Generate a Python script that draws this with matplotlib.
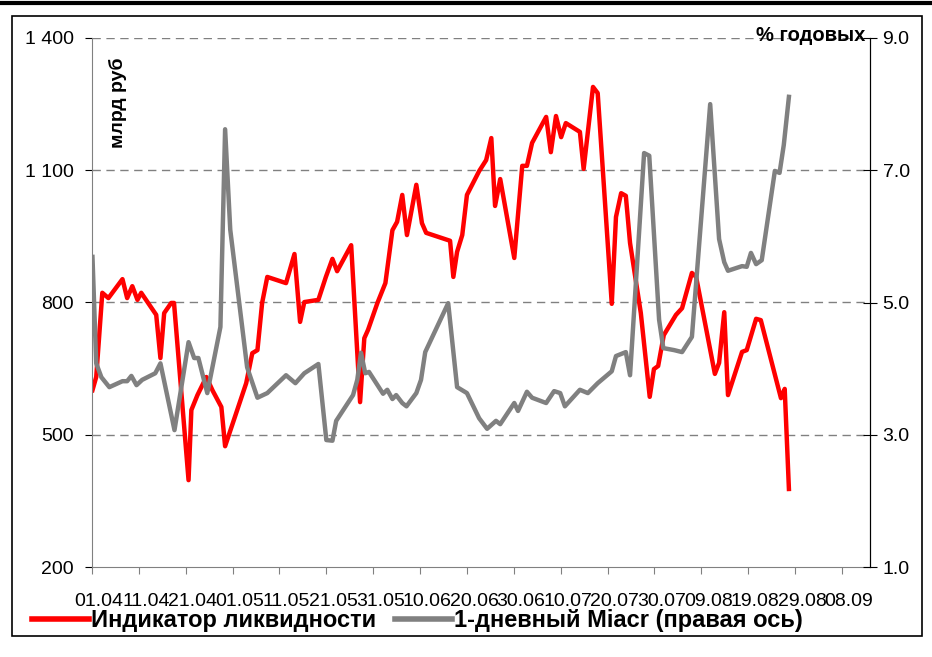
import numpy as np
from matplotlib import pyplot as plt
from matplotlib import transforms
from matplotlib.lines import Line2D
from matplotlib.patches import Rectangle

plt.rcParams['font.family'] = ['Liberation Sans', 'DejaVu Sans']

# days counted from 01.04
liq_days = [0.1, 0.9, 2.2, 3.5, 6.5, 7.5, 8.6, 9.7, 10.5, 13.7, 14.6, 15.4, 16.9, 17.5,
            20.6, 21.2, 22.5, 24.4, 25.7, 27.6, 28.4, 32.9, 34.2, 35.3, 36.3, 37.4,
            41.4, 43.2, 44.4, 45.3, 48.3, 49.9, 51.3, 52.3, 55.3, 57.2, 58.1, 58.9,
            60.9, 62.6, 64.1, 65.1, 66.2, 67.2, 69.2, 70.4, 71.3, 76.4, 77.1, 77.9,
            79.0, 80.0, 82.6, 84.1, 85.2, 86.0, 87.1, 90.1, 91.8, 92.8, 93.9, 96.9,
            97.9, 99.0, 100.1, 101.1, 104.1, 104.9, 106.9, 107.9, 110.9, 111.8, 112.9,
            113.9, 114.8, 117.1, 119.0, 119.9, 120.8, 122.0, 124.6, 125.9, 128.0,
            128.9, 132.9, 133.8, 134.9, 135.7, 138.7, 139.7, 141.7, 142.7, 147.0,
            147.8, 148.7]
liq_vals = [601, 631, 822, 810, 853, 810, 837, 806, 822, 772, 674, 776, 799, 799,
            397, 556, 590, 631, 601, 563, 474, 617, 685, 692, 799, 858,
            844, 910, 756, 801, 806, 858, 899, 871, 930, 574, 719, 738,
            799, 844, 964, 983, 1044, 953, 1067, 980, 958, 940, 858, 915,
            953, 1044, 1098, 1123, 1173, 1019, 1080, 901, 1110, 1110, 1162, 1221,
            1141, 1223, 1175, 1207, 1187, 1103, 1289, 1275, 797, 994, 1048,
            1042, 935, 776, 586, 649, 656, 726, 772, 787, 867,
            858, 638, 663, 778, 590, 688, 692, 763, 760, 583,
            604, 377]

miacr_days = [0.1, 0.9, 2.0, 3.7, 6.5, 7.5, 8.4, 9.5, 10.7, 13.5, 14.6, 17.6, 20.6,
              21.8, 22.7, 24.6, 27.4, 28.4, 29.5, 33.1, 35.3, 37.4, 41.4, 43.4, 45.3,
              48.3, 50.0, 51.3, 52.1, 55.7, 56.6, 57.4, 58.3, 59.1, 62.1, 63.0, 64.1,
              64.9, 66.2, 67.1, 69.2, 70.2, 71.1, 76.0, 77.9, 80.0, 82.6, 84.3, 86.2,
              87.1, 90.1, 90.9, 92.8, 93.9, 96.9, 98.6, 99.9, 100.9, 104.1, 105.8,
              107.9, 110.9, 111.8, 113.9, 114.8, 117.8, 118.9, 121.0, 121.9, 124.2,
              125.9, 126.9, 128.0, 131.9, 133.8, 134.9, 135.7, 138.7, 139.7, 140.6,
              141.7, 142.9, 145.7, 146.7, 147.6, 148.7]
miacr_vals = [5.69, 4.08, 3.87, 3.72, 3.81, 3.81, 3.89, 3.75, 3.83, 3.93, 4.08, 3.07, 4.40,
              4.16, 4.16, 3.63, 4.63, 7.62, 6.10, 4.02, 3.56, 3.63, 3.90, 3.78, 3.93,
              4.07, 2.92, 2.91, 3.21, 3.60, 3.83, 4.24, 3.93, 3.95, 3.62, 3.68, 3.54,
              3.60, 3.48, 3.43, 3.63, 3.83, 4.25, 4.99, 3.72, 3.63, 3.25, 3.09, 3.21,
              3.16, 3.48, 3.36, 3.65, 3.56, 3.48, 3.66, 3.63, 3.43, 3.68, 3.63,
              3.78, 3.96, 4.19, 4.25, 3.90, 7.26, 7.22, 4.74, 4.31, 4.28,
              4.25, 4.36, 4.48, 8.00, 5.96, 5.61, 5.48, 5.55, 5.54, 5.75,
              5.58, 5.64, 6.99, 6.96, 7.38, 8.11]

xtick_labels = ['01.04', '11.04', '21.04', '01.05', '11.05', '21.05', '31.05', '10.06',
                '20.06', '30.06', '10.07', '20.07', '30.07', '09.08', '19.08', '29.08',
                '08.09']
left_ticks = [200, 500, 800, 1100, 1400]
left_labels = ['200', '500', '800', '1 100', '1 400']
right_ticks = [1.0, 3.0, 5.0, 7.0, 9.0]

fig = plt.figure(figsize=(9.32, 6.57), dpi=100)
ax = fig.add_axes([92/932, 1 - 567/657, 778/932, 529/657])
ax2 = ax.twinx()

ax.plot(liq_days, liq_vals, color='#ff0000', lw=3.2, solid_joinstyle='round')
ax2.plot(miacr_days, miacr_vals, color='#808080', lw=3.2, solid_joinstyle='round')

ax.set_xlim(0, 166)
ax.set_ylim(200, 1400)
ax2.set_ylim(1, 9)

ax.set_xticks(np.arange(len(xtick_labels)) * 10)
ax.set_xticklabels(xtick_labels, fontsize=14)
ax.set_yticks(left_ticks)
ax.set_yticklabels(left_labels, fontsize=14)
ax2.set_yticks(right_ticks)
ax2.set_yticklabels(['%.1f' % v for v in right_ticks], fontsize=14)

# dashed grid
for v in left_ticks[1:]:
    ax.axhline(v, color='#808080', lw=1, ls=(0, (6, 4)), zorder=0)

for a in (ax, ax2):
    a.spines['top'].set_visible(False)
ax.spines['left'].set_color('#808080')
ax.spines['bottom'].set_color('#808080')
ax2.spines['left'].set_visible(False)
ax2.spines['bottom'].set_visible(False)
ax2.spines['right'].set_color('black')
ax.tick_params(axis='y', direction='out', length=5, pad=8, color='black')
ax.tick_params(axis='x', direction='out', length=5, pad=14, color='#808080')
ax2.tick_params(axis='y', direction='inout', length=10, pad=4, color='black')

# x labels sit a bit to the right of their ticks
offset = transforms.ScaledTranslation(7/100, 0, fig.dpi_scale_trans)
for lab in ax.get_xticklabels():
    lab.set_transform(lab.get_transform() + offset)

fig.text(118/932, 1 - 103/657, 'млрд руб', rotation=90, ha='center', va='center',
         fontsize=14, fontweight='bold')
fig.text(865/932, 1 - 41/657, '% годовых', ha='right', va='baseline',
         fontsize=14.5, fontweight='bold')

handles = [Line2D([], [], color='#ff0000', lw=4),
           Line2D([], [], color='#808080', lw=4)]
fig.legend(handles, ['Индикатор ликвидности', '1-дневный Miacr (правая ось)'],
           loc='center left', bbox_to_anchor=(18/932, 1 - 621/657), ncol=2,
           frameon=False, prop={'size': 17, 'weight': 'bold'},
           handlelength=2.4, handletextpad=0.1, columnspacing=0.8, borderpad=0.1)

# frame around the chart and the rule on top
fig.patches.append(Rectangle((12/932, 1 - 636/657), 910/932, 620/657,
                             transform=fig.transFigure, fill=False, ec='black', lw=1.2))
fig.lines.append(Line2D([0, 1], [1 - 3/657, 1 - 3/657], transform=fig.transFigure,
                        color='black', lw=3))

fig.savefig('out.png', dpi=100)
